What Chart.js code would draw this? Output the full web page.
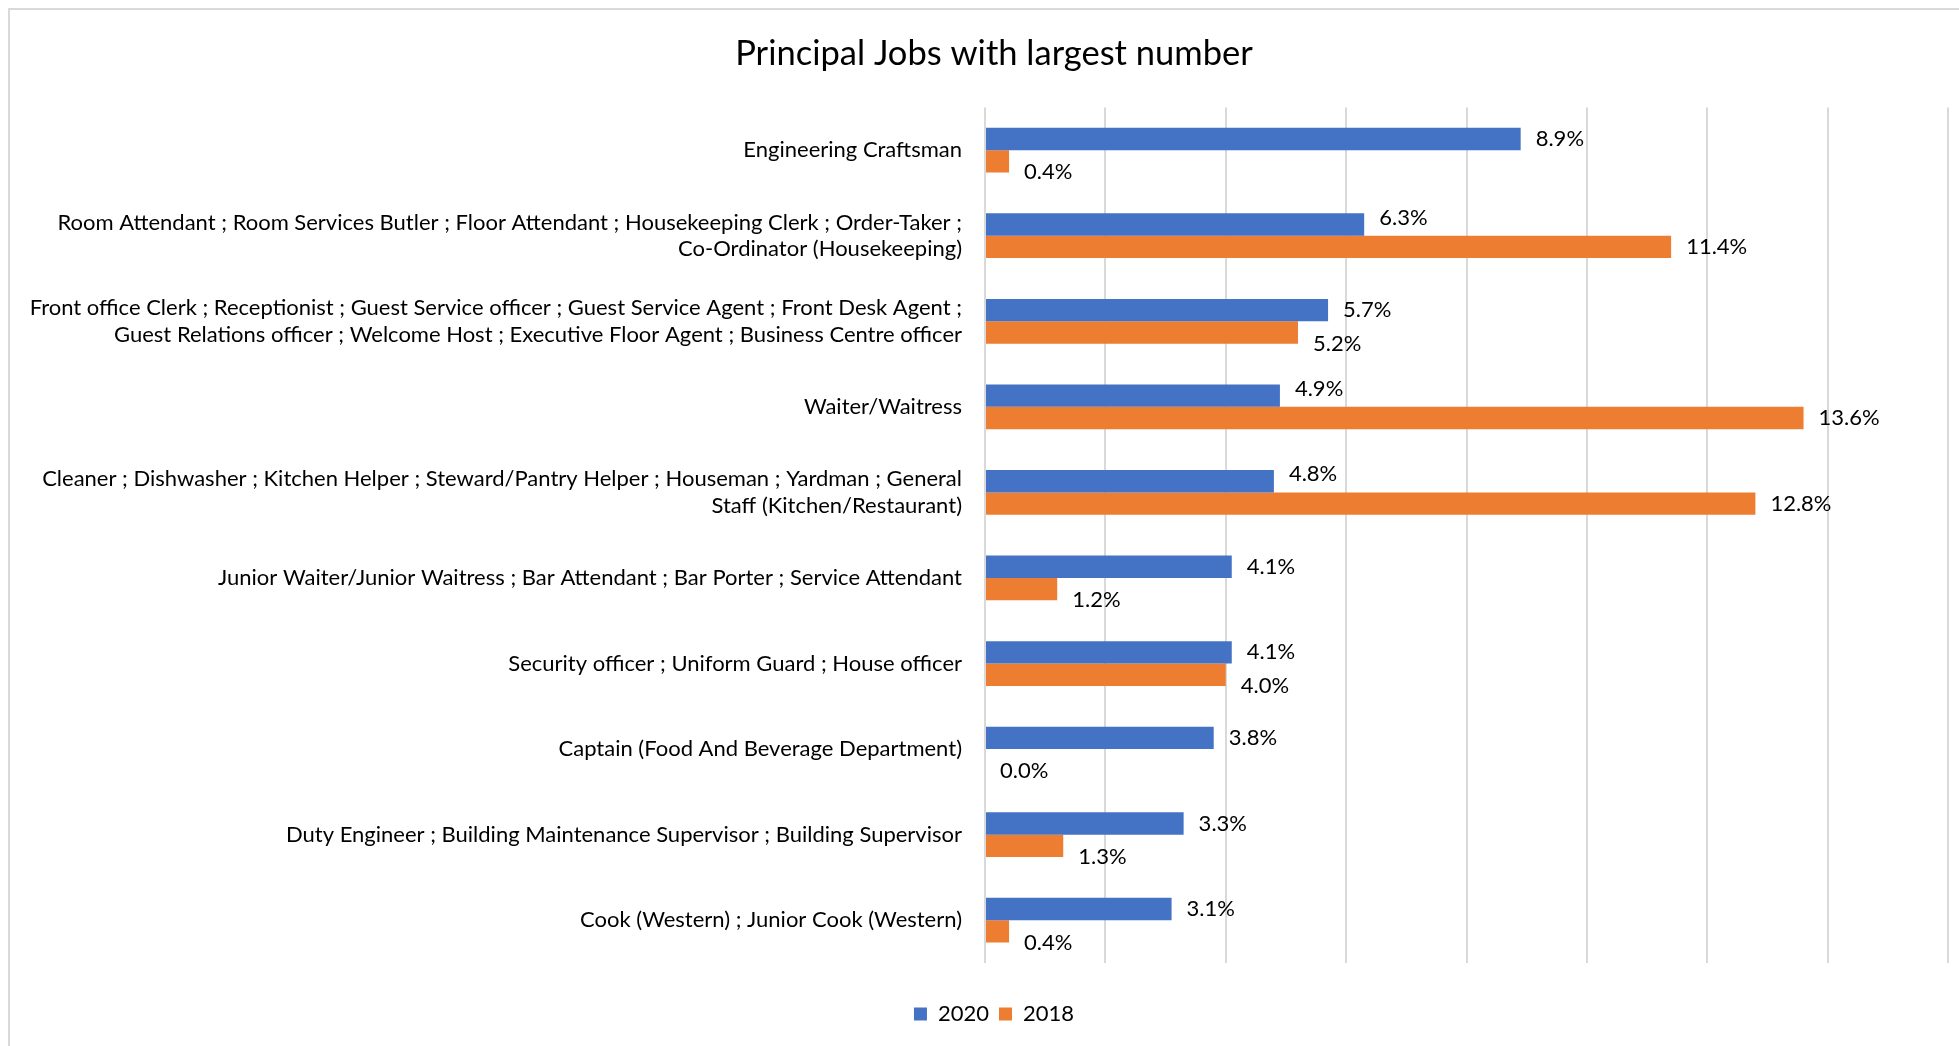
<!DOCTYPE html>
<html>
<head>
<meta charset="utf-8">
<script src="https://cdn.jsdelivr.net/npm/chart.js@4.4.1/dist/chart.umd.min.js"></script>
<style>
  html, body { margin: 0; padding: 0; background: #fff; overflow: hidden; }
  #frame {
    position: absolute; left: 8px; top: 8px; width: 3000px; height: 2000px;
    border-top: 2px solid #d9d9d9; border-left: 2px solid #d9d9d9;
  }
  #wrap { position: absolute; left: 0; top: 0; width: 1959px; height: 1046px; }
</style>
</head>
<body>
<div id="frame"></div>
<div id="wrap"><canvas id="chart"></canvas></div>
<script>
// job groups, top to bottom
const jobs = [
  "Engineering Craftsman",
  ["Room Attendant ; Room Services Butler ; Floor Attendant ; Housekeeping Clerk ; Order-Taker ;", "Co-Ordinator (Housekeeping)"],
  ["Front office Clerk ; Receptionist ; Guest Service officer ; Guest Service Agent ; Front Desk Agent ;", "Guest Relations officer ; Welcome Host ; Executive Floor Agent ; Business Centre officer"],
  "Waiter/Waitress",
  ["Cleaner ; Dishwasher ; Kitchen Helper ; Steward/Pantry Helper ; Houseman ; Yardman ; General", "Staff (Kitchen/Restaurant)"],
  "Junior Waiter/Junior Waitress ; Bar Attendant ; Bar Porter ; Service Attendant",
  "Security officer ; Uniform Guard ; House officer",
  "Captain (Food And Beverage Department)",
  "Duty Engineer ; Building Maintenance Supervisor ; Building Supervisor",
  "Cook (Western) ; Junior Cook (Western)"
];
// share of jobs, in percent
const share2020 = [8.9, 6.3, 5.7, 4.9, 4.8, 4.1, 4.1, 3.8, 3.3, 3.1];
const share2018 = [0.4, 11.4, 5.2, 13.6, 12.8, 1.2, 4.0, 0.0, 1.3, 0.4];

const FONT = "Lato";

// value labels at the bar ends, nudged off the neighbouring bar like Excel does
const barLabels = {
  id: "barLabels",
  afterDatasetsDraw(chart) {
    const ctx = chart.ctx;
    ctx.save();
    ctx.font = "22px " + FONT;
    ctx.fillStyle = "#000";
    ctx.textAlign = "left";
    ctx.textBaseline = "middle";
    chart.data.datasets.forEach((ds, di) => {
      const other = chart.data.datasets[1 - di].data;
      chart.getDatasetMeta(di).data.forEach((bar, i) => {
        let dy = 0;
        if (di === 1 && ds.data[i] < other[i]) dy = 11;
        if (di === 0 && ds.data[i] < other[i]) dy = -7;
        ctx.fillText(ds.data[i].toFixed(1) + "%", bar.x + 15, bar.y + dy);
      });
    });
    ctx.restore();
  }
};

new Chart(document.getElementById("chart"), {
  type: "bar",
  data: {
    labels: jobs,
    datasets: [
      { label: "2020", data: share2020, backgroundColor: "#4472C4" },
      { label: "2018", data: share2018, backgroundColor: "#ED7D31" }
    ]
  },
  options: {
    indexAxis: "y",
    responsive: true,
    maintainAspectRatio: false,
    animation: false,
    categoryPercentage: 0.523,
    barPercentage: 1,
    // the Excel chart runs past the right edge, so title and legend centre further right
    layout: { padding: { left: 0, right: -29, top: 10, bottom: 11 } },
    scales: {
      x: {
        min: 0, max: 16,
        ticks: { display: false, stepSize: 2 },
        grid: { color: "#d9d9d9", lineWidth: 2, drawTicks: false },
        border: { display: false },
        afterFit(scale) { scale.height = 30; }
      },
      y: {
        ticks: { color: "#000", font: { family: FONT, size: 22 }, padding: 23 },
        grid: { display: false, drawTicks: false },
        border: { display: false },
        afterFit(scale) { scale.width = 985; }
      },
      yRight: {
        type: "category",
        position: "right",
        ticks: { display: false },
        grid: { display: false, drawTicks: false },
        border: { display: false },
        afterFit(scale) { scale.width = 40; }
      }
    },
    plugins: {
      title: {
        display: true,
        text: "Principal Jobs with largest number",
        color: "#000",
        font: { family: FONT, size: 34.5, weight: "normal" },
        padding: { top: 23, bottom: 33 }
      },
      legend: {
        position: "bottom",
        labels: { color: "#000", font: { family: FONT, size: 22 }, boxWidth: 13, boxHeight: 13, padding: 10 }
      },
      tooltip: { enabled: false }
    }
  },
  plugins: [barLabels]
});
</script>
</body>
</html>
